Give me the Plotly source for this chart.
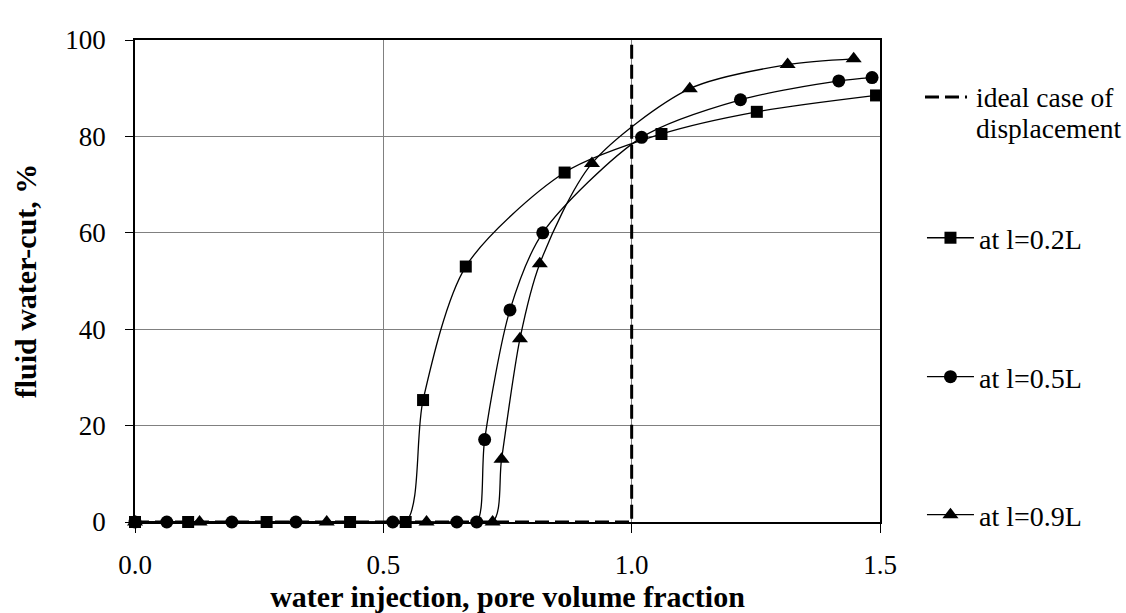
import plotly.graph_objects as go

# ---- data ----
ideal_x = [0.0, 1.0, 1.0]
ideal_y = [0, 0, 100]

sq_x = [0.0, 0.107, 0.265, 0.433, 0.545, 0.58, 0.666, 0.865, 1.06, 1.252, 1.492]
sq_y = [0, 0, 0, 0, 0, 25.3, 53, 72.5, 80.5, 85.1, 88.5]

ci_x = [0.0, 0.064, 0.195, 0.324, 0.519, 0.648, 0.688, 0.704, 0.755, 0.821, 1.02, 1.219, 1.417, 1.484]
ci_y = [0, 0, 0, 0, 0, 0, 0, 17.1, 44, 60, 79.8, 87.6, 91.5, 92.2]

tr_x = [0.0, 0.13, 0.386, 0.587, 0.72, 0.738, 0.775, 0.815, 0.92, 1.117, 1.314, 1.447]
tr_y = [0, 0, 0, 0, 0, 13, 38, 53.6, 74.4, 89.9, 94.9, 96.1]

x_ticks = [0.0, 0.5, 1.0, 1.5]
y_ticks = [0, 20, 40, 60, 80, 100]

ideal_label = ["ideal case of", "displacement"]

FONT = "Liberation Serif, Times New Roman, serif"
FS_TICK = 27
FS_LEG = 28
FS_TITLE = 30
DASH = "14px,6px"

fig = go.Figure()

fig.add_trace(go.Scatter(
    x=ideal_x, y=ideal_y, mode="lines", name=" ".join(ideal_label),
    line=dict(color="black", width=3, dash=DASH), showlegend=False,
))

fig.add_trace(go.Scatter(
    x=sq_x, y=sq_y, mode="lines+markers", name="at l=0.2L",
    line=dict(color="black", width=1.3, shape="spline", smoothing=0.8),
    marker=dict(symbol="square", size=12, color="black"), legend="legend2",
    cliponaxis=False,
))
fig.add_trace(go.Scatter(
    x=ci_x, y=ci_y, mode="lines+markers", name="at l=0.5L",
    line=dict(color="black", width=1.3, shape="spline", smoothing=0.8),
    marker=dict(symbol="circle", size=13, color="black"), legend="legend3",
    cliponaxis=False,
))
fig.add_trace(go.Scatter(
    x=tr_x, y=tr_y, mode="lines+markers", name="at l=0.9L",
    line=dict(color="black", width=1.3, shape="spline", smoothing=0.8),
    marker=dict(symbol="triangle-up", size=14, color="black"), legend="legend4",
    cliponaxis=False,
))

leg_common = dict(
    font=dict(family=FONT, size=FS_LEG, color="black"),
    bgcolor="rgba(0,0,0,0)", xanchor="left", yanchor="middle",
    xref="container", yref="container", x=0.8188,
    valign="top", itemclick=False, itemdoubleclick=False, itemwidth=47,
)

# legend entry for the "ideal case" line, drawn as a shape + text
leg_ideal_y = [0.8817, 0.8174]
shapes = [dict(type="line", xref="paper", yref="paper",
               x0=1.0604, x1=1.1168, y0=leg_ideal_y[0], y1=leg_ideal_y[0],
               line=dict(color="black", width=3, dash=DASH))]
annotations = [dict(xref="paper", yref="paper", x=1.1262, y=yy, text=t,
                    xanchor="left", yanchor="middle", showarrow=False,
                    font=dict(family=FONT, size=27.5, color="black"))
               for t, yy in zip(ideal_label, leg_ideal_y)]

fig.update_layout(
    width=1126, height=613,
    margin=dict(l=135, r=246, t=40, b=91, autoexpand=False),
    paper_bgcolor="white", plot_bgcolor="white",
    font=dict(family=FONT, size=FS_TICK, color="black"),
    showlegend=True,
    legend2=dict(leg_common, y=0.6117),
    legend3=dict(leg_common, y=0.3850),
    legend4=dict(leg_common, y=0.1599),
    shapes=shapes,
    annotations=annotations,
    xaxis=dict(
        range=[0, 1.5], tickvals=x_ticks, tickformat=".1f",
        showgrid=True, gridcolor="#808080", gridwidth=1,
        showline=True, linecolor="black", linewidth=1.5, mirror=True,
        ticks="outside", ticklen=9, tickcolor="black", ticklabelstandoff=9,
        zeroline=False, automargin=False,
        title=dict(text="<b>water injection, pore volume fraction</b>", standoff=8,
                   font=dict(family=FONT, size=FS_TITLE)),
        tickfont=dict(family=FONT, size=FS_TICK),
    ),
    yaxis=dict(
        range=[0, 100], tickvals=y_ticks,
        showgrid=True, gridcolor="#808080", gridwidth=1,
        showline=True, linecolor="black", linewidth=1.5, mirror=True,
        ticks="outside", ticklen=8, tickcolor="black", ticklabelstandoff=14,
        zeroline=False, automargin=False,
        title=dict(text="<b>fluid water-cut, %</b>", standoff=20,
                   font=dict(family=FONT, size=FS_TITLE)),
        tickfont=dict(family=FONT, size=FS_TICK),
    ),
)

fig.write_html(
    "out.html",
    config={"displayModeBar": False},
    post_script="document.body.style.margin='0';document.body.style.overflow='hidden';",
)
